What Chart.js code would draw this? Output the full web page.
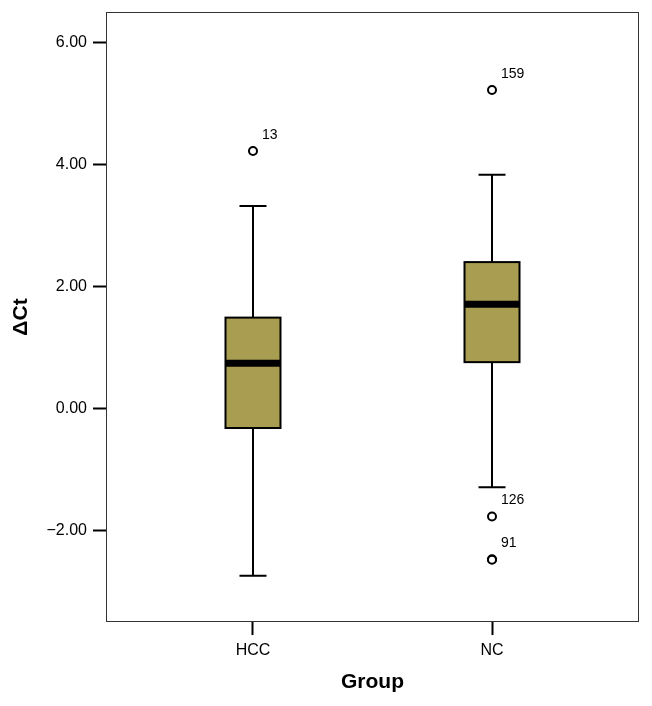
<!DOCTYPE html>
<html lang="en">
<head>
<meta charset="UTF-8">
<title>ΔCt by Group</title>
<script src="https://cdn.jsdelivr.net/npm/chart.js"></script>
<style>
  body { margin: 0; background: #fff; }
  #wrap { width: 652px; height: 706px; }
</style>
</head>
<body>
<div id="wrap"><canvas id="boxChart"></canvas></div>
<script>
// values
const groups = ['HCC', 'NC'];
const whiskerLow = [-2.74, -1.29];
const q1 = [-0.32, 0.76];
const median = [0.74, 1.71];
const q3 = [1.49, 2.40];
const whiskerHigh = [3.32, 3.83];

// outliers (case numbers shown next to them)
const outlierGroup = ['HCC', 'NC', 'NC', 'NC', 'NC'];
const outlierValue = [4.22, 5.22, -1.77, -2.47, -2.48];
const outlierCase = ['13', '159', '126', '91', ''];

const yTicks = [-2, 0, 2, 4, 6];

const FONT = '"Liberation Sans", Arial, sans-serif';
const boxFill = '#a89d50';

// boxes, whiskers, medians and frame, placed with the chart scales
const boxPlugin = {
  id: 'boxes',
  beforeDatasetsDraw(chart) {
    const { ctx, chartArea: a, scales: { x, y } } = chart;
    ctx.save();
    ctx.strokeStyle = '#333';
    ctx.lineWidth = 1;
    ctx.strokeRect(a.left + 0.5, a.top + 0.5, a.width - 1, a.height - 1);

    groups.forEach((g, i) => {
      const cx = x.getPixelForValue(i + 1);
      const half = 27.5, cap = 13.5;
      const yLo = y.getPixelForValue(whiskerLow[i]);
      const yHi = y.getPixelForValue(whiskerHigh[i]);
      const yQ1 = y.getPixelForValue(q1[i]);
      const yQ3 = y.getPixelForValue(q3[i]);
      const yMed = y.getPixelForValue(median[i]);

      ctx.strokeStyle = '#000';
      ctx.lineWidth = 2;
      // whiskers
      ctx.beginPath();
      ctx.moveTo(cx, yQ3); ctx.lineTo(cx, yHi);
      ctx.moveTo(cx - cap, yHi); ctx.lineTo(cx + cap, yHi);
      ctx.moveTo(cx, yQ1); ctx.lineTo(cx, yLo);
      ctx.moveTo(cx - cap, yLo); ctx.lineTo(cx + cap, yLo);
      ctx.stroke();
      // box
      ctx.fillStyle = boxFill;
      ctx.fillRect(cx - half, yQ3, half * 2, yQ1 - yQ3);
      ctx.strokeRect(cx - half, yQ3, half * 2, yQ1 - yQ3);
      // median
      ctx.lineWidth = 7;
      ctx.beginPath();
      ctx.moveTo(cx - half, yMed); ctx.lineTo(cx + half, yMed);
      ctx.stroke();
    });
    ctx.restore();
  },
  afterDatasetsDraw(chart) {
    const { ctx } = chart;
    const meta = chart.getDatasetMeta(0);
    ctx.save();
    ctx.fillStyle = '#000';
    ctx.font = '14px ' + FONT;
    ctx.textAlign = 'left';
    ctx.textBaseline = 'middle';
    meta.data.forEach((pt, i) => {
      if (outlierCase[i]) ctx.fillText(outlierCase[i], pt.x + 9, pt.y - 16);
    });
    ctx.restore();
  }
};

new Chart(document.getElementById('boxChart'), {
  type: 'scatter',
  data: {
    datasets: [{
      label: 'Outliers',
      data: outlierValue.map((v, i) => ({ x: groups.indexOf(outlierGroup[i]) + 1, y: v })),
      pointStyle: 'circle',
      pointRadius: 4,
      borderWidth: 2,
      borderColor: '#000',
      backgroundColor: '#fff'
    }]
  },
  options: {
    responsive: true,
    maintainAspectRatio: false,
    animation: false,
    layout: { padding: { left: 0, top: 12, right: 13, bottom: 0 } },
    plugins: { legend: { display: false }, tooltip: { enabled: false } },
    scales: {
      x: {
        type: 'linear',
        min: 0.385,
        max: 2.615,
        afterBuildTicks: s => { s.ticks = groups.map((g, i) => ({ value: i + 1 })); },
        afterFit: s => { s.height = 84; s.paddingLeft = 0; s.paddingRight = 0; },
        ticks: {
          callback: v => groups[v - 1],
          color: '#000',
          font: { family: FONT, size: 16 },
          padding: 6,
          maxRotation: 0
        },
        grid: { drawOnChartArea: false, tickLength: 13, tickWidth: 2, tickColor: '#000' },
        border: { display: false },
        title: {
          display: true,
          text: 'Group',
          color: '#000',
          font: { family: FONT, size: 21, weight: 'bold' },
          padding: { top: 0, bottom: 11 }
        }
      },
      y: {
        min: -3.5,
        max: 6.5,
        afterBuildTicks: s => { s.ticks = yTicks.map(v => ({ value: v })); },
        afterFit: s => { s.width = 106; s.paddingTop = 0; s.paddingBottom = 0; },
        ticks: {
          callback: v => (v < 0 ? '\u2212' + Math.abs(v).toFixed(2) : v.toFixed(2)),
          color: '#000',
          font: { family: FONT, size: 16 },
          padding: 6
        },
        grid: { drawOnChartArea: false, tickLength: 13, tickWidth: 2, tickColor: '#000' },
        border: { display: false },
        title: {
          display: true,
          text: 'ΔCt',
          color: '#000',
          font: { family: FONT, size: 21, weight: 'bold' },
          padding: { top: 9, bottom: 0 }
        }
      }
    }
  },
  plugins: [boxPlugin]
});
</script>
</body>
</html>
